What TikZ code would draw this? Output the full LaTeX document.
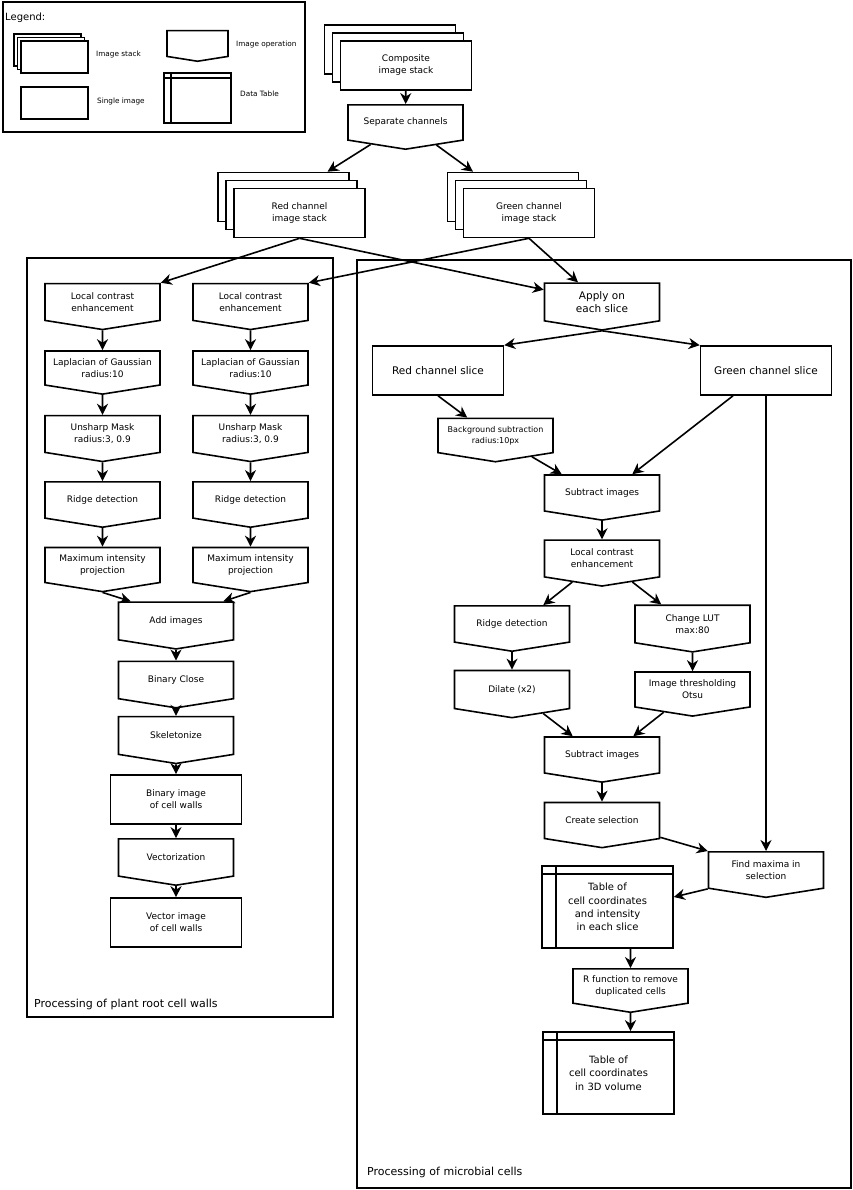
\documentclass[tikz,border=0pt]{standalone}
\usepackage{fontspec}
\setmainfont{DejaVu Sans}
\usetikzlibrary{arrows.meta,shapes.symbols}
\begin{document}
\begin{tikzpicture}[x=1pt,y=-1pt,
		base/.style={draw,line width=1.6pt,fill=white,align=center,inner sep=1pt,font=\fontsize{9}{12}\selectfont},
		op/.style={base,shape=signal,signal to=south,signal from=nowhere,signal pointer angle=162,minimum width=115,minimum height=42},
		img/.style={base,rectangle,minimum width=131,minimum height=49},
		small/.style={minimum width=67,minimum height=32},
		tablines/.style 2 args={path picture={\draw[line width=1.6pt] ([xshift=#1]path picture bounding box.north west)--([xshift=#1]path picture bounding box.south west) ([yshift=-#2]path picture bounding box.north west)--([yshift=-#2]path picture bounding box.north east);}},
		tab/.style={img,minimum height=82,tablines={14pt}{8pt},font=\fontsize{10}{13.3}\selectfont},
		big/.style={font=\fontsize{10.5}{13}\selectfont},
		arr/.style={-{Stealth[length=11pt,width=11pt,inset=3.5pt]},line width=1.6pt},
		frame/.style={line width=1.6pt},
		txt/.style={anchor=west,inner sep=0pt,font=\fontsize{7.3}{9}\selectfont},
		title/.style={anchor=west,inner sep=0pt,font=\fontsize{11}{13}\selectfont}]
	\useasboundingbox (0,0) rectangle (853,1190);
	\draw[frame] (3,2) rectangle (305,132);
	\draw[frame] (27,258) rectangle (333,1017);
	\draw[frame] (357,260) rectangle (851,1188);
	\node[title] (part1) at (34,1004) {Processing of plant root cell walls};
	\node[title] (part2) at (367,1172) {Processing of microbial cells};

	\node[anchor=west,inner sep=0pt,font=\fontsize{10}{12}\selectfont] (leg) at (5,18) {Legend:};
	\foreach \d in {7,3.5}
		\node[img,small] (lstk\d) at (54.5-\d,57-\d) {};
	\node[img,small] (lstk) at (54.5,57) {};
	\node[txt] (lstkt) at (96,54) {Image stack};
	\node[img,small] (limg) at (54.5,103) {};
	\node[txt] (limgt) at (97,101) {Single image};
	\node[op,minimum width=61,minimum height=26] (lop) at (197.5,43.5) {};
	\node[txt] (lopt) at (236,44) {Image operation};
	\node[img,minimum width=67,minimum height=50,tablines={7pt}{5pt}] (ltab) at (197.5,98) {};
	\node[txt] (ltabt) at (240,94) {Data Table};

	\foreach \n/\x/\y in {comp/406/65.5,red/299.5/213,green/529/213}
		\foreach \d in {16,8}
			\node[img] (\n\d) at (\x-\d,\y-\d) {};
	\node[img] (comp) at (406,65.5) {Composite\\image stack};
	\node[op] (sep) at (405.5,122.5) {Separate channels};
	\node[img] (red) at (299.5,213) {Red channel\\image stack};
	\node[img] (green) at (529,213) {Green channel\\image stack};
	\draw[arr] (comp) -- (sep);
	\draw[arr] (sep) -- ([xshift=44pt]red16.north);
	\draw[arr] (sep) -- ([xshift=-40pt]green16.north);

	\foreach \s/\x in {L/102.5,R/250.5}{
		\node[op] (lce\s) at (\x,302) {Local contrast\\enhancement};
		\node[op] (log\s) at (\x,368) {Laplacian of Gaussian\\radius:10};
		\node[op] (usm\s) at (\x,434) {Unsharp Mask\\radius:3, 0.9};
		\node[op] (rdg\s) at (\x,500) {Ridge detection};
		\node[op] (mip\s) at (\x,565) {Maximum intensity\\projection};
		\draw[arr] (lce\s) -- (log\s);
		\draw[arr] (log\s) -- (usm\s);
		\draw[arr] (usm\s) -- (rdg\s);
		\draw[arr] (rdg\s) -- (mip\s);
	}
	\draw[arr] (red.south) -- (lceL.north east);
	\draw[arr] (green.south) -- (lceR.north east);
	\node[op] (add) at (176,621) {Add images};
	\node[op] (close) at (176,680) {Binary Close};
	\node[op] (skel) at (176,735.5) {Skeletonize};
	\node[img] (bin) at (176,799.5) {Binary image\\of cell walls};
	\node[op] (vect) at (176,857.5) {Vectorization};
	\node[img] (vimg) at (176,922.5) {Vector image\\of cell walls};
	\draw[arr] (mipL.south) -- ([xshift=13pt]add.north west);
	\draw[arr] (mipR.south) -- ([xshift=-11pt]add.north east);
	\foreach \a/\b in {add/close,close/skel,skel/bin,bin/vect,vect/vimg}
		\draw[arr] (\a) -- (\b);

	\node[op,big] (apply) at (602,302) {Apply on\\each slice};
	\node[img,big] (redS) at (438,370.5) {Red channel slice};
	\node[img,big] (greenS) at (766,370.5) {Green channel slice};
	\node[op,font=\fontsize{8}{11}\selectfont] (bg) at (495.5,435.5) {Background subtraction\\radius:10px};
	\node[op] (sub1) at (602,493) {Subtract images};
	\node[op] (lce) at (602,558.5) {Local contrast\\enhancement};
	\node[op] (rdg) at (512,624) {Ridge detection};
	\node[op] (lut) at (692.5,624) {Change LUT\\max:80};
	\node[op] (dil) at (512,689.5) {Dilate (x2)};
	\node[op] (otsu) at (692.5,689.5) {Image thresholding\\Otsu};
	\node[op] (sub2) at (602,755) {Subtract images};
	\node[op] (sel) at (602,820.5) {Create selection};
	\node[op] (max) at (766,870) {Find maxima in\\selection};
	\node[tab] (tab1) at (607.5,907) {Table of\\cell coordinates\\and intensity\\in each slice};
	\node[op] (rfun) at (630.5,986) {R function to remove\\duplicated cells};
	\node[tab] (tab2) at (608.5,1073) {Table of\\cell coordinates\\in 3D volume};
	\draw[arr] (red.south) -- (apply);
	\draw[arr] (green.south) -- ([xshift=-24pt]apply.north);
	\draw[arr] (apply.south) -- (redS.north east);
	\draw[arr] (apply.south) -- (greenS.north west);
	\draw[arr] (redS.south) -- ([xshift=30pt]bg.north west);
	\draw[arr] (bg) -- ([xshift=18pt]sub1.north west);
	\draw[arr] ([xshift=-33pt]greenS.south) -- ([xshift=-28pt]sub1.north east);
	\draw[arr] (greenS) -- (max);
	\draw[arr] (sub1) -- (lce);
	\draw[arr] (lce) -- ([xshift=-27pt]rdg.north east);
	\draw[arr] (lce) -- ([xshift=27pt]lut.north west);
	\draw[arr] (rdg) -- (dil);
	\draw[arr] (lut) -- (otsu);
	\draw[arr] (dil) -- ([xshift=29pt]sub2.north west);
	\draw[arr] (otsu) -- ([xshift=-27pt]sub2.north east);
	\draw[arr] (sub2) -- (sel);
	\draw[arr] (sel) -- (max.north west);
	\draw[arr] (max.south west) -- ([yshift=10pt]tab1.east);
	\draw[arr] (tab1.south -| rfun.north) -- (rfun);
	\draw[arr] (rfun) -- (rfun.south |- tab2.north);
\end{tikzpicture}
\end{document}
